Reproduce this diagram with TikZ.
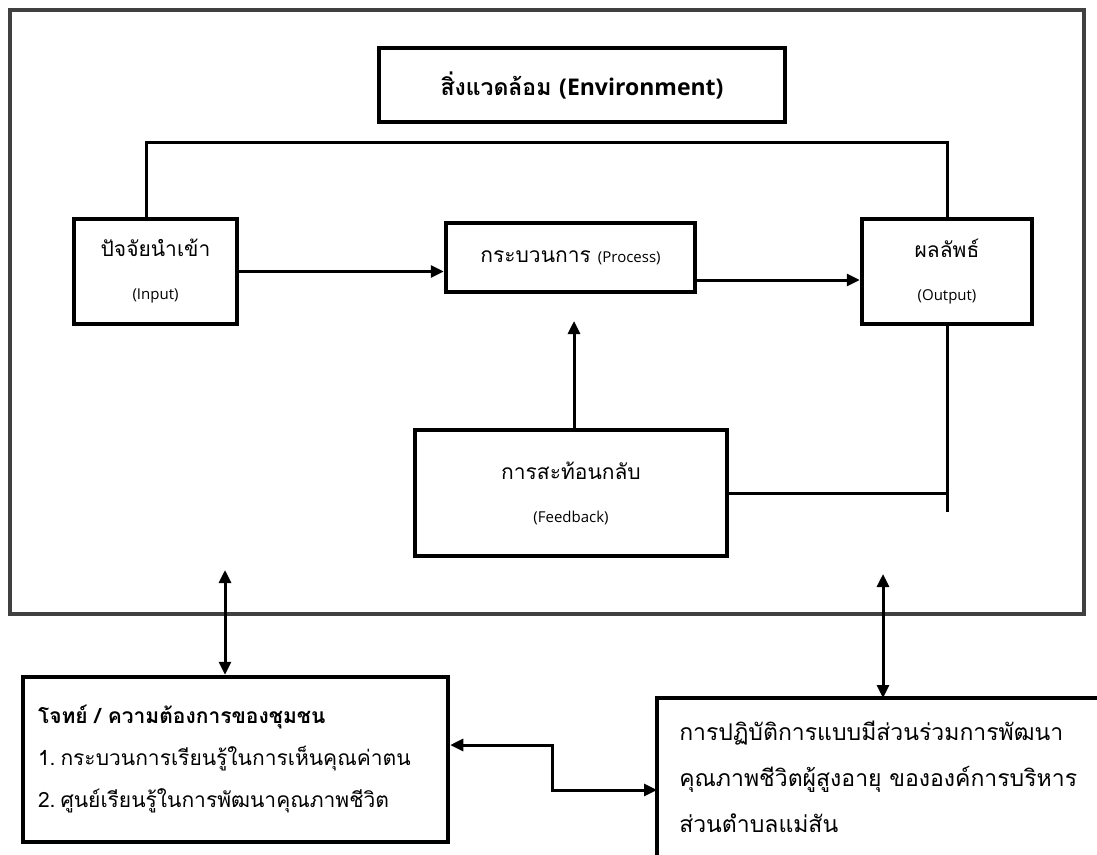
\documentclass[tikz,border=0pt]{standalone}
\usepackage{fontspec}
\setmainfont{Open Sans}
\newfontfamily\thaifont[Script=Thai]{Loma}
\newfontfamily\latfont{Open Sans}
\usetikzlibrary{arrows.meta}
\definecolor{framegray}{HTML}{404040}
\newcommand\laS{\latfont\fontsize{15}{18}\selectfont}
\begin{document}
\begin{tikzpicture}[x=1pt,y=-1pt,
  box/.style={draw,line width=4.5pt,rectangle,inner sep=0pt},
  twoline/.style={align=center,font={\thaifont\fontsize{21}{43}\selectfont}},
  conn/.style={line width=3pt},
  arr/.style={conn,-{Triangle[length=13pt,width=12pt]}},
  arrb/.style={conn,{Triangle[length=13pt,width=12pt]}-{Triangle[length=13pt,width=12pt]}}]
\useasboundingbox (0,0) rectangle (1097,854);
\clip (0,0) rectangle (1097,854);
\fill[white] (0,0) rectangle (1097,854);

\node[draw=framegray,line width=4pt,minimum width=1074pt,minimum height=604pt,inner sep=0pt] (frame) at (547,312) {};

\node[box,line width=4pt,minimum width=406pt,minimum height=74pt,
      font={\thaifont\bfseries\fontsize{23}{27}\selectfont}] (env) at (582,85)
  {สิ่งแวดล้อม {\latfont\bfseries (Environment)}};

\node[box,twoline,minimum width=163pt,minimum height=105pt] (input) at (155.5,271.5)
  {ปัจจัยนำเข้า\\\laS (Input)};
\node[box,minimum width=249pt,minimum height=69pt,font={\thaifont\fontsize{21}{25}\selectfont}] (process) at (570.5,257.5)
  {กระบวนการ \laS(Process)};
\node[box,twoline,minimum width=170pt,minimum height=105pt] (output) at (947,271.5)
  {ผลลัพธ์\\\laS (Output)};
\node[box,twoline,minimum width=312pt,minimum height=126pt] (feedback) at (571,493)
  {การสะท้อนกลับ\\\laS (Feedback)};

\node[box,minimum width=425pt,minimum height=165pt,text width=395pt,align=left,
      font={\thaifont\fontsize{21}{42}\selectfont}] (needs) at (235.5,759.5)
  {{\bfseries โจทย์ / ความต้องการของชุมชน}\\
   1.\hspace{5pt}กระบวนการเรียนรู้ในการเห็นคุณค่าตน\\
   2.\hspace{5pt}ศูนย์เรียนรู้ในการพัฒนาคุณภาพชีวิต};

% the lower right box runs off the page at the right and the bottom
\node[box,draw=none,anchor=north west,inner xsep=20pt,inner ysep=0pt,text width=420pt,minimum height=154pt,align=left,
      font={\thaifont\fontsize{23}{46}\selectfont}] (practice) at (657,698)
  {การปฏิบัติการแบบมีส่วนร่วมการพัฒนา\\
   คุณภาพชีวิตผู้สูงอายุ ขององค์การบริหาร\\
   ส่วนตำบลแม่สัน};
\draw[line width=4.5pt] ([yshift=-20pt]practice.south west) -- (practice.north west) -- ([xshift=20pt]practice.north east);

% loop from input to output
\coordinate (looptop) at (0,142);
\coordinate (inTop) at ([xshift=-9pt]input.north);
\draw[conn] (inTop) -- (inTop |- looptop) -| (output.north);

\draw[arr] (input.east) -- (input.east -| process.west);
\coordinate (poy) at (0,280);
\draw[arr] (process.east |- poy) -- (output.west |- poy);

\coordinate (fby) at (0,512);
\draw[conn] (output.south) -- (output.south |- fby);
\draw[conn] (feedback.east) -- (feedback.east -| output.south);
\coordinate (fbtip) at (574,321);
\draw[arr] (fbtip |- feedback.north) -- (fbtip);

\coordinate (ltip) at (225,570);
\draw[arrb] (ltip) -- (ltip |- needs.north);
\coordinate (rtip) at (883,574);
\draw[arrb] (rtip) -- (rtip |- practice.north);

\coordinate (ma) at (552,745);
\coordinate (mb) at (552,790);
\draw[arrb] (needs.east |- ma) -- (ma) -- (mb) -- (practice.west |- mb);
\end{tikzpicture}
\end{document}
